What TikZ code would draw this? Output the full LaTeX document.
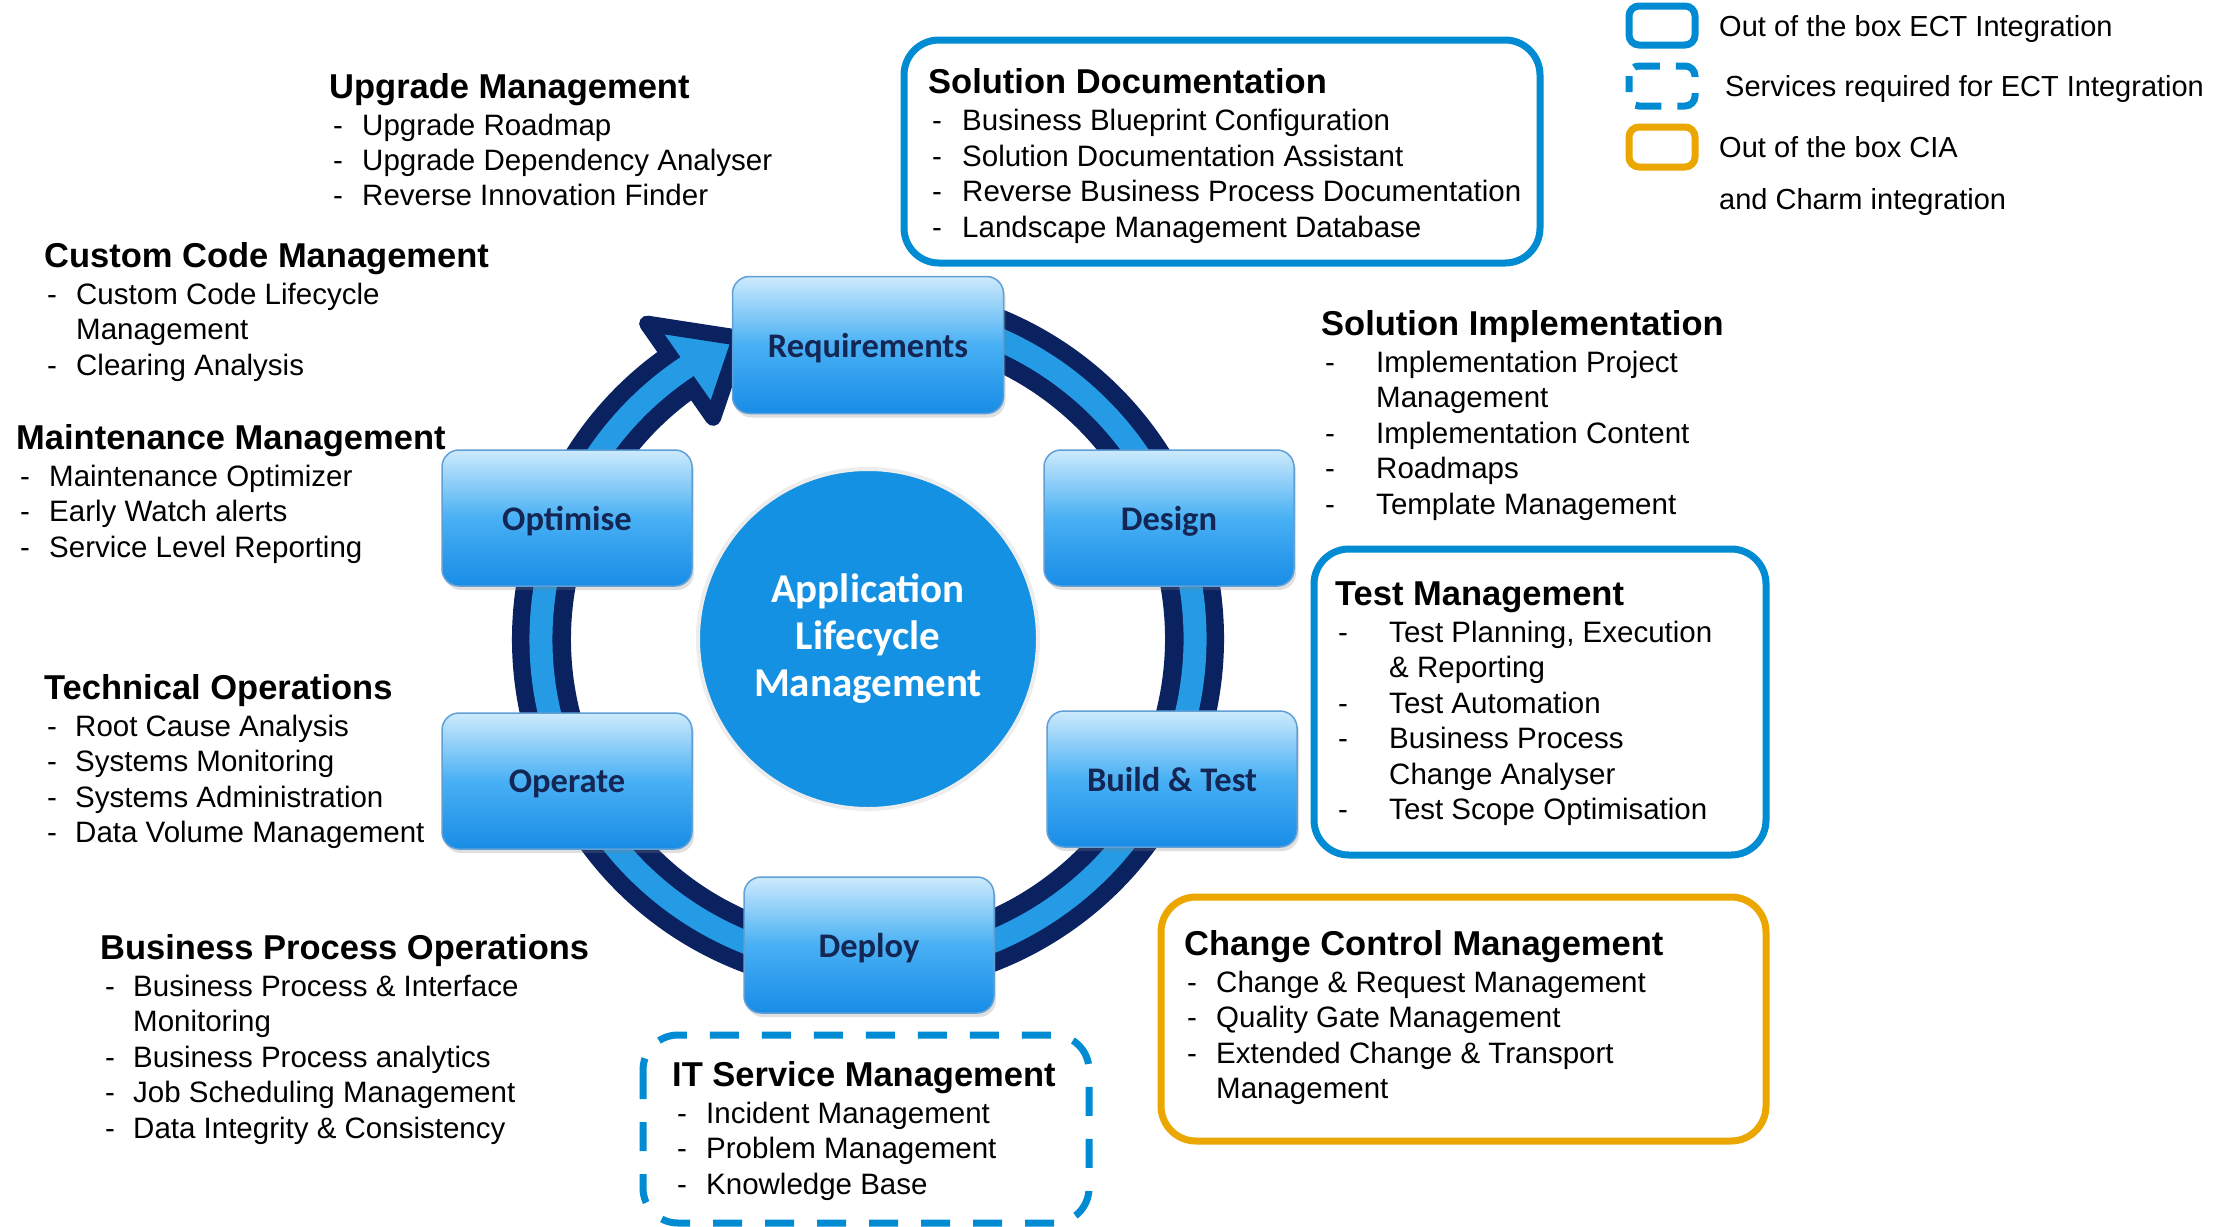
\documentclass[tikz,border=0pt]{standalone}
\usepackage{fontspec}
\setmainfont{Liberation Sans}
\newfontfamily\calibri{Carlito}
\usetikzlibrary{calc,positioning,shadows}

\definecolor{ectblue}{RGB}{0,139,210}
\definecolor{ciaorange}{RGB}{236,166,0}
\definecolor{ringnavy}{RGB}{10,34,96}
\definecolor{ringlight}{RGB}{36,155,228}
\definecolor{phasetop}{RGB}{205,234,252}
\definecolor{phasemid}{RGB}{72,176,244}
\definecolor{phasebot}{RGB}{24,140,230}
\definecolor{phaseedge}{RGB}{96,160,214}
\definecolor{phasetext}{RGB}{20,38,84}
\definecolor{hubblue}{RGB}{20,145,226}

% name, dash x, text x, first baseline, list of dash/text
\newcommand\almitems[5]{%
  \foreach \dsh/\txt [count=\i] in {#5}{%
    \node[secitem] (#1-d\i) at (#2,{#4-35.4*(\i-1)}) {\dsh};
    \node[secitem] (#1-\i) at (#3,{#4-35.4*(\i-1)}) {\txt};
  }}

\begin{document}
\begin{tikzpicture}[x=1pt,y=1pt,
  phase/.style={draw=phaseedge,line width=1.5pt,rounded corners=17pt,
    top color=phasetop,bottom color=phasebot,middle color=phasemid,
    minimum width=250pt,minimum height=136pt,inner sep=0pt,text=phasetext,
    text depth=0pt,
    font=\calibri\bfseries\fontsize{34.5pt}{37pt}\selectfont,
    drop shadow={opacity=0.25,shadow xshift=2pt,shadow yshift=-4pt}},
  hub/.style={circle,fill=hubblue,draw=black!7,line width=4pt,minimum size=340pt,
    inner sep=0pt,align=center,text=white,
    font=\calibri\bfseries\fontsize{41pt}{47pt}\selectfont},
  secthead/.style={anchor=base west,inner sep=0pt,yshift=-3.5pt,
    font=\bfseries\fontsize{34.5pt}{40pt}\selectfont},
  secitem/.style={anchor=base west,inner sep=0pt,yshift=-1.5pt,
    font=\fontsize{29.5pt}{35pt}\selectfont},
  ectframe/.style={line width=7pt,rounded corners=35pt},
  keybox/.style={line width=7pt,rounded corners=10pt},
  keytext/.style={anchor=base west,inner sep=0pt,yshift=-1.5pt,
    font=\fontsize{29pt}{35pt}\selectfont}]

  \useasboundingbox (0,0) rectangle (2215,-1226);
  \fill[white] (0,0) rectangle (2215,-1226);

  % lifecycle ring
  \coordinate (c) at (868,-639);
  \draw[ringnavy,line width=59pt] ($(c)+(124:326.5)$) arc[start angle=124,end angle=455,radius=326.5];
  \filldraw[fill=ringlight,draw=ringnavy,line width=16pt,line join=round]
    ($(c)+(125:385)$) -- ($(c)+(113:327)$) -- ($(c)+(125:270)$) -- cycle;
  \draw[ringlight,line width=23pt] ($(c)+(120:327)$) arc[start angle=120,end angle=455,radius=327];

  \node[hub] (alm) at (c) {Application\\Lifecycle\\Management};

  \node[phase,minimum width=271pt,minimum height=137pt] (req) at (868,-345) {Requirements};
  \node[phase] (des) at (1169,-518) {Design};
  \node[phase] (bld) at (1172,-779) {Build \& Test};
  \node[phase] (dep) at (869,-945) {Deploy};
  \node[phase] (ope) at (567,-781) {Operate};
  \node[phase] (opt) at (567,-518) {Optimise};

  % left side
  \node[secthead] (upg) at (329,-94.6) {Upgrade Management};
  \almitems{upg}{333}{362}{-133.6}{-/Upgrade Roadmap,-/Upgrade Dependency Analyser,-/Reverse Innovation Finder}
  \node[secthead] (ccm) at (44,-264) {Custom Code Management};
  \almitems{ccm}{47}{76}{-303}{-/Custom Code Lifecycle,/Management,-/Clearing Analysis}
  \node[secthead] (mtn) at (16,-446) {Maintenance Management};
  \almitems{mtn}{20}{49}{-485}{-/Maintenance Optimizer,-/Early Watch alerts,-/Service Level Reporting}
  \node[secthead] (tec) at (44,-696) {Technical Operations};
  \almitems{tec}{47}{75}{-735}{-/Root Cause Analysis,-/Systems Monitoring,-/Systems Administration,-/Data Volume Management}
  \node[secthead] (bpo) at (100,-956) {Business Process Operations};
  \almitems{bpo}{105}{133}{-995}{-/Business Process \& Interface,/Monitoring,-/Business Process analytics,-/Job Scheduling Management,-/Data Integrity \& Consistency}

  % right side
  \node[secthead] (sdoc) at (928,-90.4) {Solution Documentation};
  \almitems{sdoc}{932}{962}{-129.4}{-/Business Blueprint Configuration,-/Solution Documentation Assistant,-/Reverse Business Process Documentation,-/Landscape Management Database}
  \draw[ectframe,ectblue] (904,-40) rectangle (1540,-263);

  \node[secthead] (simp) at (1321,-332) {Solution Implementation};
  \almitems{simp}{1325}{1376}{-371}{-/Implementation Project,/Management,-/Implementation Content,-/Roadmaps,-/Template Management}

  \node[secthead] (test) at (1335,-602) {Test Management};
  \almitems{test}{1338}{1389}{-641}{-/{Test Planning, Execution},/\& Reporting,-/Test Automation,-/Business Process,/Change Analyser,-/Test Scope Optimisation}
  \draw[ectframe,ectblue] (1314,-549) rectangle (1766,-855);

  \node[secthead] (chg) at (1184,-952) {Change Control Management};
  \almitems{chg}{1187}{1216}{-991}{-/Change \& Request Management,-/Quality Gate Management,-/Extended Change \& Transport,/Management}
  \draw[ectframe,ciaorange] (1161,-897) rectangle (1766,-1141);

  \node[secthead] (itsm) at (672,-1083) {IT Service Management};
  \almitems{itsm}{677}{706}{-1122}{-/Incident Management,-/Problem Management,-/Knowledge Base}
  \draw[ectframe,ectblue,dash pattern=on 29pt off 23pt] (643,-1035) rectangle (1089,-1223);

  % legend
  \draw[keybox,ectblue] (1629,-6) rectangle (1695,-45);
  \draw[keybox,ectblue,dash pattern=on 26pt off 16pt,dash phase=10pt] (1629,-66) rectangle (1695,-106);
  \draw[keybox,ciaorange] (1629,-127) rectangle (1695,-167);
  \node[keytext] (key1) at (1719,-34.6) {Out of the box ECT Integration};
  \node[keytext] (key2) at (1725,-95.4) {Services required for ECT Integration};
  \node[keytext] (key3) at (1719,-156) {Out of the box CIA};
  \node[keytext] (key4) at (1719,-208.4) {and Charm integration};
\end{tikzpicture}
\end{document}
